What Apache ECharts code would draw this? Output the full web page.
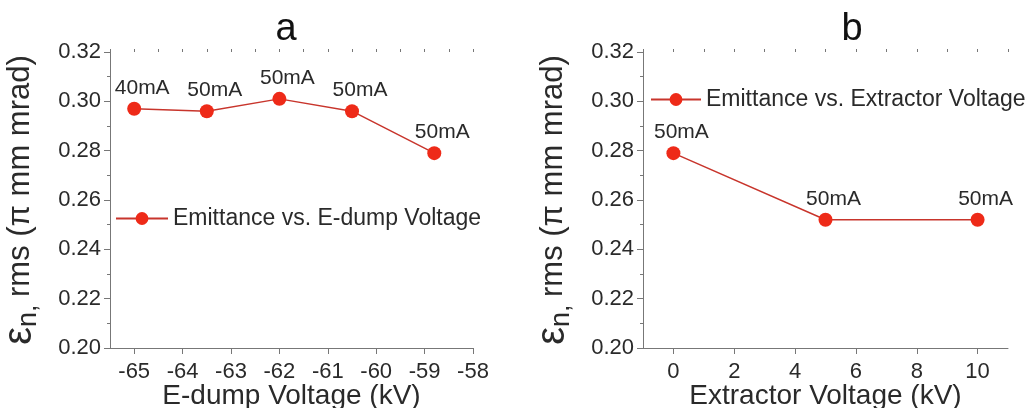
<!DOCTYPE html>
<html>
<head>
<meta charset="utf-8">
<script src="https://cdn.jsdelivr.net/npm/echarts@6/dist/echarts.min.js"></script>
<style>
  html, body { margin: 0; padding: 0; background: #fff; }
  #main { width: 1030px; height: 408px; }
</style>
</head>
<body>
<div id="main"></div>
<script>
// 数据
var edumpVoltage = [-65, -63.5, -62, -60.5, -58.8];
var edumpEmittance = [0.297, 0.296, 0.301, 0.296, 0.279];
var edumpCurrent = ['40mA', '50mA', '50mA', '50mA', '50mA'];

var extractorVoltage = [0, 5, 10];
var extractorEmittance = [0.279, 0.252, 0.252];
var extractorCurrent = ['50mA', '50mA', '50mA'];

var edumpTicks = [-65, -64, -63, -62, -61, -60, -59, -58];
var extractorTicks = [0, 2, 4, 6, 8, 10];

var FONT = 'Liberation Sans, Arial, sans-serif';
var TEXT = '#2a2a2a';
var AXIS = '#777';
var LINE = '#c8352c';
var DOT = '#ee2a18';

function pairs(xs, ys, labels) {
    return xs.map(function (x, i) { return [x, ys[i], labels[i]]; });
}

var chart = echarts.init(document.getElementById('main'));

var yName = '{e|ε}{n|n, }{r|rms (π mm mrad)}';
var yNameStyle = {
    color: TEXT,
    fontFamily: FONT,
    rich: {
        e: { fontSize: 40, fontFamily: FONT, color: TEXT, lineHeight: 44 },
        n: { fontSize: 27, fontFamily: FONT, color: TEXT, verticalAlign: 'bottom', padding: [12, 0, 0, 0] },
        r: { fontSize: 31, fontFamily: FONT, color: TEXT }
    }
};

function yAxisFor(gridIndex) {
    return {
        type: 'value',
        gridIndex: gridIndex,
        min: 0.2,
        max: 0.32,
        interval: 0.02,
        name: yName,
        nameLocation: 'middle',
        nameRotate: 90,
        nameGap: 68,
        nameTextStyle: yNameStyle,
        axisLine: { show: true, onZero: false, lineStyle: { color: AXIS, width: 1 } },
        axisTick: { show: true, length: 6, lineStyle: { color: AXIS } },
        minorTick: { show: true, splitNumber: 2, length: 3, lineStyle: { color: AXIS } },
        splitLine: { show: false },
        axisLabel: {
            margin: 9,
            fontSize: 22,
            fontFamily: FONT,
            color: TEXT,
            formatter: function (v) { return v.toFixed(2); }
        }
    };
}

function seriesFor(name, idx, data) {
    return {
        name: name,
        type: 'line',
        xAxisIndex: idx * 2,
        yAxisIndex: idx,
        data: data,
        symbol: 'circle',
        symbolSize: 14,
        lineStyle: { color: LINE, width: 1.5 },
        itemStyle: { color: DOT },
        label: {
            show: true,
            position: 'top',
            distance: 3,
            offset: [8, 0],
            fontSize: 21,
            fontFamily: FONT,
            color: TEXT,
            formatter: function (p) { return p.data[2]; }
        }
    };
}

var option = {
    animation: false,
    title: [{
        text: 'a',
        left: 281,
        top: 6,
        textAlign: 'center',
        textStyle: { fontSize: 38, fontWeight: 'normal', fontFamily: FONT, color: '#111' }
    }, {
        text: 'b',
        left: 847,
        top: 6,
        textAlign: 'center',
        textStyle: { fontSize: 38, fontWeight: 'normal', fontFamily: FONT, color: '#111' }
    }],
    legend: [{
        data: ['Emittance vs. E-dump Voltage'],
        left: 110,
        top: 202,
        itemWidth: 52,
        itemHeight: 16,
        textStyle: { fontSize: 23, fontFamily: FONT, color: TEXT }
    }, {
        data: ['Emittance vs. Extractor Voltage'],
        left: 645,
        top: 83,
        itemWidth: 50,
        itemHeight: 16,
        textStyle: { fontSize: 23, fontFamily: FONT, color: TEXT }
    }],
    grid: [
        { left: 110, top: 52, width: 363, height: 296, outerBoundsMode: 'none' },
        { left: 643, top: 52, width: 365, height: 296, outerBoundsMode: 'none' }
    ],
    xAxis: [{
        type: 'value',
        gridIndex: 0,
        min: -65.5,
        max: -58,
        name: 'E-dump Voltage (kV)',
        nameLocation: 'middle',
        nameGap: 34,
        nameMoveOverlap: false,
        nameTextStyle: { fontSize: 28, fontFamily: FONT, color: TEXT },
        axisLine: { onZero: false, lineStyle: { color: AXIS } },
        axisTick: { length: 6, customValues: edumpTicks, lineStyle: { color: AXIS } },
        axisLabel: { customValues: edumpTicks, margin: 13, fontSize: 22, fontFamily: FONT, color: TEXT },
        splitLine: { show: false }
    }, {
        // 次刻度
        type: 'value',
        gridIndex: 0,
        min: -65.5,
        max: -58,
        interval: 0.5,
        axisLine: { show: false, onZero: false },
        axisTick: { length: 3, lineStyle: { color: AXIS } },
        axisLabel: { show: false },
        splitLine: { show: false }
    }, {
        type: 'value',
        gridIndex: 1,
        min: -1,
        max: 11,
        name: 'Extractor Voltage (kV)',
        nameLocation: 'middle',
        nameGap: 34,
        nameMoveOverlap: false,
        nameTextStyle: { fontSize: 28, fontFamily: FONT, color: TEXT },
        axisLine: { onZero: false, lineStyle: { color: AXIS } },
        axisTick: { length: 6, customValues: extractorTicks, lineStyle: { color: AXIS } },
        axisLabel: { customValues: extractorTicks, margin: 13, fontSize: 22, fontFamily: FONT, color: TEXT },
        splitLine: { show: false }
    }, {
        type: 'value',
        gridIndex: 1,
        min: -1,
        max: 11,
        interval: 1,
        axisLine: { show: false, onZero: false },
        axisTick: { length: 3, lineStyle: { color: AXIS } },
        axisLabel: { show: false },
        splitLine: { show: false }
    }],
    yAxis: [yAxisFor(0), yAxisFor(1)],
    series: [
        seriesFor('Emittance vs. E-dump Voltage', 0, pairs(edumpVoltage, edumpEmittance, edumpCurrent)),
        seriesFor('Emittance vs. Extractor Voltage', 1, pairs(extractorVoltage, extractorEmittance, extractorCurrent))
    ]
};

chart.setOption(option);
</script>
</body>
</html>
